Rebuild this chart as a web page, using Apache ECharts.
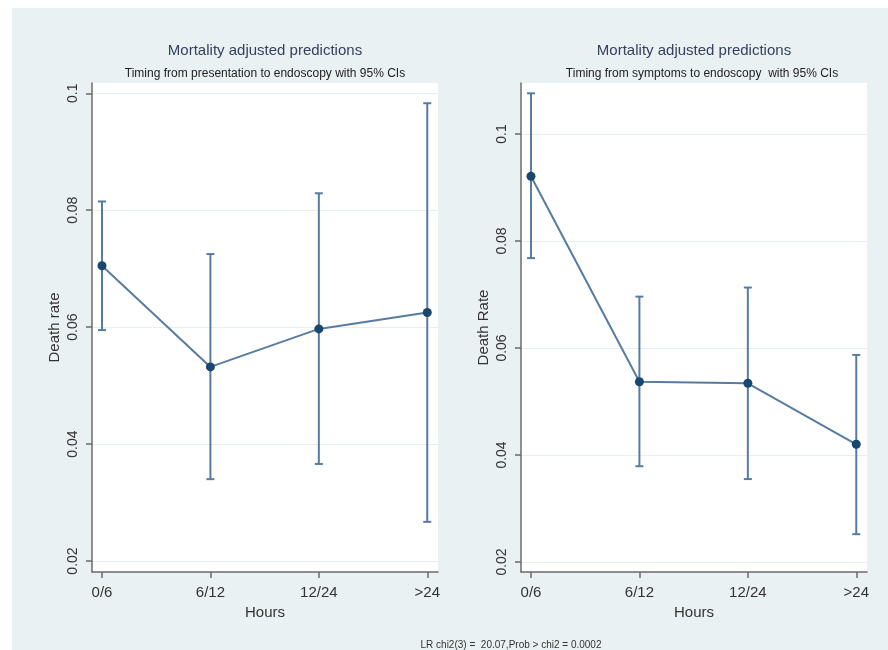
<!DOCTYPE html>
<html>
<head>
<meta charset="utf-8">
<script src="https://cdn.jsdelivr.net/npm/echarts@6/dist/echarts.min.js"></script>
<style>
html, body { margin: 0; padding: 0; background: #fff; }
#main { width: 888px; height: 650px; }
</style>
</head>
<body>
<div id="main"></div>
<script>
// 数据
var categories = ['0/6', '6/12', '12/24', '>24'];
var yTickValues = [0.02, 0.04, 0.06, 0.08, 0.1];
var yTickLabels = ['0.02', '0.04', '0.06', '0.08', '0.1'];
// 左图: presentation -> endoscopy
var presEst = [0.0705, 0.0532, 0.0597, 0.0625];
var presLow = [0.0595, 0.0340, 0.0366, 0.0267];
var presHigh = [0.0815, 0.0725, 0.0829, 0.0983];
// 右图: symptoms -> endoscopy
var sympEst = [0.0921, 0.0537, 0.0534, 0.0420];
var sympLow = [0.0768, 0.0379, 0.0355, 0.0252];
var sympHigh = [0.1076, 0.0696, 0.0713, 0.0587];

var lineColor = '#577ca1';
var dotColor = '#1a476f';
var axisColor = '#6b6b6b';
var font = '"Liberation Sans", Arial, sans-serif';

var chart = echarts.init(document.getElementById('main'));

function pairs(vals) {
    return vals.map(function (v, i) { return [i, v]; });
}
function ciData(lo, hi) {
    return lo.map(function (v, i) { return [i, v, hi[i]]; });
}
// 误差线
function ciItem(params, api) {
    var x = api.value(0);
    var lo = api.coord([x, api.value(1)]);
    var hi = api.coord([x, api.value(2)]);
    var w = 4;
    var st = { stroke: lineColor, lineWidth: 2 };
    return {
        type: 'group',
        children: [
            { type: 'line', shape: { x1: lo[0], y1: lo[1], x2: hi[0], y2: hi[1] }, style: st },
            { type: 'line', shape: { x1: hi[0] - w, y1: hi[1], x2: hi[0] + w, y2: hi[1] }, style: st },
            { type: 'line', shape: { x1: lo[0] - w, y1: lo[1], x2: lo[0] + w, y2: lo[1] }, style: st }
        ]
    };
}

function xAxisOpt(gi) {
    return {
        type: 'value', gridIndex: gi, min: -0.092, max: 3.099,
        name: 'Hours', nameLocation: 'middle', nameGap: 28,
        nameTextStyle: { fontFamily: font, fontSize: 15, color: '#333' },
        axisLine: { show: true, onZero: false, lineStyle: { color: axisColor, width: 1.5 } },
        axisTick: { show: true, length: 6, customValues: [0, 1, 2, 3], lineStyle: { color: axisColor, width: 1.5 } },
        axisLabel: {
            customValues: [0, 1, 2, 3], margin: 13,
            fontFamily: font, fontSize: 15, color: '#333',
            formatter: function (v) { return categories[Math.round(v)]; }
        },
        splitLine: { show: false }
    };
}
function yAxisOpt(gi, min, max, name) {
    return {
        type: 'value', gridIndex: gi, min: min, max: max,
        name: name, nameLocation: 'middle', nameGap: 30,
        nameTextStyle: { fontFamily: font, fontSize: 15, color: '#333' },
        axisLine: { show: true, onZero: false, lineStyle: { color: axisColor, width: 1.5 } },
        axisTick: { show: true, length: 6, customValues: yTickValues, lineStyle: { color: axisColor, width: 1.5 } },
        axisLabel: {
            customValues: yTickValues, rotate: 90, margin: 12,
            fontFamily: font, fontSize: 14, color: '#333',
            formatter: function (v) { return yTickLabels[Math.round((v - 0.02) / 0.02)]; }
        },
        splitLine: { show: true, lineStyle: { color: '#e6eff2', width: 1 } }
    };
}

function txt(x, y, text, size, color) {
    return {
        type: 'text', x: x, y: y,
        style: { text: text, fill: color, font: size + 'px ' + font, align: 'center', verticalAlign: 'middle' }
    };
}

var option = {
    backgroundColor: '#eaf1f3',
    animation: false,
    grid: [
        { left: 92, top: 83, width: 346, height: 489, show: true, backgroundColor: '#fff', borderWidth: 0 },
        { left: 521, top: 83, width: 346, height: 489, show: true, backgroundColor: '#fff', borderWidth: 0 }
    ],
    xAxis: [xAxisOpt(0), xAxisOpt(1)],
    yAxis: [
        yAxisOpt(0, 0.01812, 0.10176, 'Death rate'),
        yAxisOpt(1, 0.01813, 0.10953, 'Death Rate')
    ],
    graphic: [
        { type: 'rect', shape: { x: 0, y: 0, width: 888, height: 8 }, style: { fill: '#fff' } },
        { type: 'rect', shape: { x: 0, y: 0, width: 12, height: 650 }, style: { fill: '#fff' } },
        txt(265, 51, 'Mortality adjusted predictions', 15, '#34425f'),
        txt(265, 74, 'Timing from presentation to endoscopy with 95% CIs', 12, '#222'),
        txt(694, 51, 'Mortality adjusted predictions', 15, '#34425f'),
        txt(702, 74, 'Timing from symptoms to endoscopy  with 95% CIs', 12, '#222'),
        txt(511, 645, 'LR chi2(3) =  20.07,Prob > chi2 = 0.0002', 10, '#333')
    ],
    series: [
        { type: 'custom', xAxisIndex: 0, yAxisIndex: 0, renderItem: ciItem, data: ciData(presLow, presHigh), encode: { x: 0, y: [1, 2] }, z: 2 },
        { type: 'line', xAxisIndex: 0, yAxisIndex: 0, data: pairs(presEst), symbol: 'circle', symbolSize: 9,
          lineStyle: { color: lineColor, width: 2 }, itemStyle: { color: dotColor }, z: 3 },
        { type: 'custom', xAxisIndex: 1, yAxisIndex: 1, renderItem: ciItem, data: ciData(sympLow, sympHigh), encode: { x: 0, y: [1, 2] }, z: 2 },
        { type: 'line', xAxisIndex: 1, yAxisIndex: 1, data: pairs(sympEst), symbol: 'circle', symbolSize: 9,
          lineStyle: { color: lineColor, width: 2 }, itemStyle: { color: dotColor }, z: 3 }
    ]
};
chart.setOption(option);
</script>
</body>
</html>
